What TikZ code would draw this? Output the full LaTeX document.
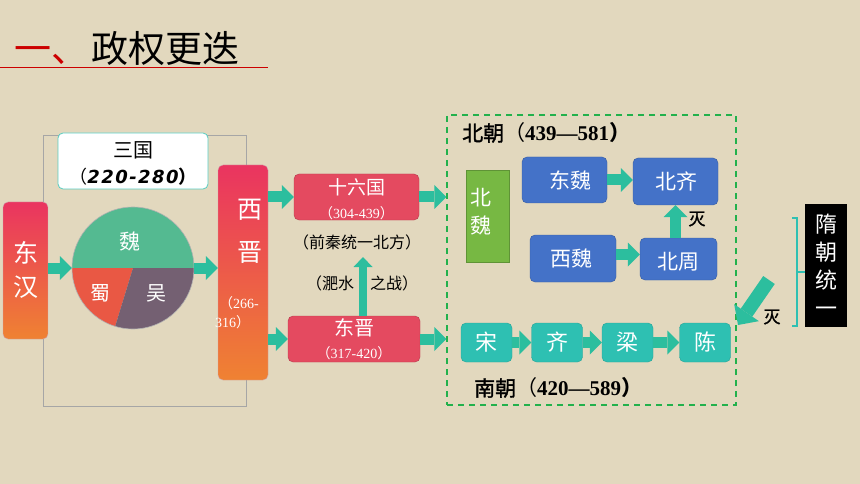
\documentclass[tikz,border=0pt]{standalone}
\usepackage{fontspec}
\newfontfamily\cjk{Noto Sans CJK SC}
\newfontfamily\cjkb[FakeBold=1.5]{Noto Sans CJK SC}
\newfontfamily\tms{Liberation Serif}
\newfontfamily\hand[LetterSpace=8]{DejaVu Sans}
\newcommand\fsz[2]{\fontsize{#1}{#2}\selectfont}
\usetikzlibrary{arrows.meta}
\definecolor{bg}{RGB}{226,216,190}
\definecolor{pinktop}{RGB}{234,52,96}
\definecolor{orangebot}{RGB}{239,130,50}
\definecolor{redbox}{RGB}{228,74,96}
\definecolor{bluebox}{RGB}{68,114,200}
\definecolor{greenbox}{RGB}{119,184,67}
\definecolor{tealbox}{RGB}{46,192,178}
\definecolor{arrc}{RGB}{44,190,158}
\definecolor{weic}{RGB}{84,186,145}
\definecolor{shuc}{RGB}{233,88,68}
\definecolor{wuc}{RGB}{116,96,114}
\definecolor{dashc}{RGB}{34,177,76}
\definecolor{titlered}{RGB}{204,0,0}
\begin{document}
\begin{tikzpicture}[x=1pt,y=-1pt,
  box/.style={rounded corners=5pt, inner sep=0pt, anchor=center},
  gradbox/.style={box, top color=pinktop, bottom color=orangebot, draw=pinktop!60!black!40},
  redb/.style={box, fill=redbox, draw=redbox!80!black},
  blueb/.style={box, fill=bluebox, draw=bluebox!80!black},
  tealb/.style={box, fill=tealbox, draw=tealbox!85!black},
  wtxt/.style={inner sep=0pt, text=white, font=\cjk},
  btxt/.style={inner sep=0pt, text=black, font=\cjk},
  blockarr/.style={draw=arrc, line width=11pt, -{Triangle[length=12pt,width=24pt,line width=0pt]}},
  thinarr/.style={draw=arrc, line width=8pt, -{Triangle[length=10pt,width=19pt,line width=0pt]}},
  bigarr/.style={draw=arrc, line width=14pt, -{Triangle[length=15pt,width=30pt,line width=0pt]}}
]
\fill[bg] (0,0) rectangle (860,484);
\useasboundingbox (0,0) rectangle (860,484);

% title
\node[inner sep=0pt, anchor=west, font=\cjk\fsz{37}{40}] (title) at (14,49)
  {\textcolor{titlered}{一、}\hspace{3pt}政权更迭};
\coordinate (tl0) at (0,68);
\coordinate (tl1) at (268,68);
\draw[titlered, line width=1pt] (tl0) -- (tl1);

% frame around three kingdoms
\node[draw=gray!70, line width=0.7pt, minimum width=203pt, minimum height=271pt, inner sep=0pt] (frame) at (144.5,270.5) {};

% three kingdoms box
\node[box, fill=white, draw=tealbox!80, line width=0.8pt, minimum width=150pt, minimum height=56pt] (sg) at (133,161) {};
\node[btxt, font=\cjk\fsz{20}{22}] (sgt) at (133,150) {三国};
\node[btxt, font=\fsz{18}{20}] (sgd) at (133,177) {\cjk（\hand\bfseries\itshape 220-280\cjk）};

% Eastern Han
\node[gradbox, minimum width=45pt, minimum height=137pt] (dh) at (25.5,270.5) {};
\node[wtxt, font=\cjk\fsz{25}{34}, align=center] (dht) at (25.5,270) {东\\汉};

% pie
\node[circle, minimum size=122pt, inner sep=0pt] (pie) at (133,268) {};
\begin{scope}[shift={(133,268)}, yscale=-1]
  \fill[weic] (0,0) -- (0:61) arc[start angle=0, end angle=180, radius=61] -- cycle;
  \fill[shuc] (0,0) -- (180:61) arc[start angle=180, end angle=253, radius=61] -- cycle;
  \fill[wuc] (0,0) -- (253:61) arc[start angle=253, end angle=360, radius=61] -- cycle;
  \draw[gray!60, line width=0.6pt] (0,0) circle[radius=61];
\end{scope}
\node[wtxt, font=\cjk\fsz{21}{22}] (wei) at (130,241) {魏};
\node[wtxt, font=\cjk\fsz{20}{22}] (shu) at (100,293) {蜀};
\node[wtxt, font=\cjk\fsz{20}{22}] (wu) at (156,293) {吴};

% Western Jin
\node[gradbox, minimum width=50pt, minimum height=215pt] (xj) at (243,272.5) {};
\node[wtxt, font=\cjk\fsz{25}{26}] (xj1) at (250,210) {西};
\node[wtxt, font=\cjk\fsz{25}{26}] (xj2) at (250,253) {晋};
\node[wtxt, anchor=west, font=\fsz{14}{15}] (xj3) at (219,303) {\cjk（\tms 266-};
\node[wtxt, anchor=west, font=\fsz{14}{15}] (xj4) at (215,322) {\tms 316\cjk）};

% Sixteen Kingdoms & Eastern Jin
\node[redb, minimum width=125pt, minimum height=46pt] (sl) at (356.5,197) {};
\node[wtxt, font=\cjk\fsz{19}{20}] (slt) at (356.5,187) {十六国};
\node[wtxt, font=\fsz{14}{15}] (sld) at (356.5,213) {\cjk（\tms 304-439\cjk）};
\node[redb, minimum width=132pt, minimum height=46pt] (dj) at (354,339) {};
\node[wtxt, font=\cjk\fsz{20}{22}] (djt) at (354,328) {东晋};
\node[wtxt, font=\fsz{14}{15}] (djd) at (354,353) {\cjk（\tms 317-420\cjk）};

\node[btxt, font=\cjk\fsz{16}{18}] (qq) at (357,242) {（前秦统一北方）};
\node[btxt, font=\cjk\fsz{16}{18}] (fs) at (362,283) {（淝水　之战）};

% dashed region
\node[draw=dashc, dash pattern=on 6pt off 5pt, line width=1.5pt, minimum width=289pt, minimum height=290pt, inner sep=0pt] (nc) at (591.5,260) {};
\node[btxt, anchor=west, font=\fsz{21}{22}] (bct) at (462,133) {\cjkb 北朝\cjk（\tms\bfseries 439—581\cjk）};
\node[btxt, anchor=west, font=\fsz{21}{22}] (nct) at (474,388) {\cjkb 南朝\cjk（\tms\bfseries 420—589\cjk）};

% northern dynasties
\node[fill=greenbox, draw=greenbox!80!black, inner sep=0pt, minimum width=43pt, minimum height=92pt] (bw) at (487.5,216) {};
\node[wtxt, font=\cjk\fsz{21}{22}] (bw1) at (481,198) {北};
\node[wtxt, font=\cjk\fsz{21}{22}] (bw2) at (481,225) {魏};
\node[blueb, minimum width=85pt, minimum height=46pt] (dw) at (564.5,180) {};
\node[wtxt, font=\cjk\fsz{21}{22}] (dwt) at (570,180) {东魏};
\node[blueb, minimum width=85pt, minimum height=47pt] (bq) at (675.5,181.5) {};
\node[wtxt, font=\cjk\fsz{21}{22}] (bqt) at (676,181) {北齐};
\node[blueb, minimum width=86pt, minimum height=47pt] (xw) at (573,258.5) {};
\node[wtxt, font=\cjk\fsz{21}{22}] (xwt) at (571,258) {西魏};
\node[blueb, minimum width=77pt, minimum height=42pt] (bz) at (678.5,259) {};
\node[wtxt, font=\cjk\fsz{21}{22}] (bzt) at (678,262) {北周};
\node[btxt, font=\cjkb\fsz{17}{18}] (mie1) at (697,219) {灭};

% southern dynasties
\node[tealb, minimum width=51pt, minimum height=39pt] (song) at (486.5,342.5) {};
\node[tealb, minimum width=51pt, minimum height=39pt] (qi) at (557,342.5) {};
\node[tealb, minimum width=51pt, minimum height=39pt] (liang) at (627.5,342.5) {};
\node[tealb, minimum width=51pt, minimum height=39pt] (chen) at (705,342.5) {};
\node[wtxt, font=\cjk\fsz{22}{24}] (songt) at (486.5,342) {宋};
\node[wtxt, font=\cjk\fsz{22}{24}] (qit) at (557,342) {齐};
\node[wtxt, font=\cjk\fsz{22}{24}] (liangt) at (627.5,342) {梁};
\node[wtxt, font=\cjk\fsz{22}{24}] (chent) at (705,342) {陈};

% Sui
\node[fill=black, inner sep=0pt, minimum width=42pt, minimum height=123pt] (sui) at (826,265.5) {};
\node[wtxt, font=\cjk\fsz{22}{28}, align=center] (suit) at (826,265) {隋\\朝\\统\\一};
\coordinate (br0) at (792,218);
\coordinate (br1) at (797,218);
\coordinate (br2) at (797,326);
\coordinate (br3) at (792,326);
\coordinate (brm) at (797,272);
\draw[tealbox, line width=1.3pt] (br0) -- (br1) -- (br2) -- (br3);
\draw[tealbox, line width=1.3pt] (brm) -- (brm -| sui.west);

% connectors
\draw[blockarr] (dh.east |- pie.west) -- (pie.west);
\draw[blockarr] (pie.east) -- (pie.east -| xj.west);
\draw[blockarr] (xj.east |- sl.west) -- (sl.west);
\draw[blockarr] (xj.east |- dj.west) -- (dj.west);
\draw[blockarr] (sl.east) -- (sl.east -| nc.west);
\draw[blockarr] (dj.east) -- (dj.east -| nc.west);
\coordinate (fsa) at (363,257);
\draw[thinarr] (dj.north -| fsa) -- (fsa);
\draw[blockarr] (dw.east) -- (bq.west |- dw.east);
\draw[blockarr] ([yshift=4pt]xw.east) -- ([yshift=4pt]bz.west |- xw.east);
\draw[blockarr] (bz.north -| bq.south) -- (bq.south);
\draw[blockarr] (song.east) -- (qi.west);
\draw[blockarr] (qi.east) -- (liang.west);
\draw[blockarr] (liang.east) -- (chen.west);
\coordinate (ma) at (769,280);
\coordinate (mb) at (738,325);
\draw[bigarr] (ma) -- (mb);
\node[btxt, font=\cjkb\fsz{17}{18}] (mie2) at (772,317) {灭};
\end{tikzpicture}
\end{document}
